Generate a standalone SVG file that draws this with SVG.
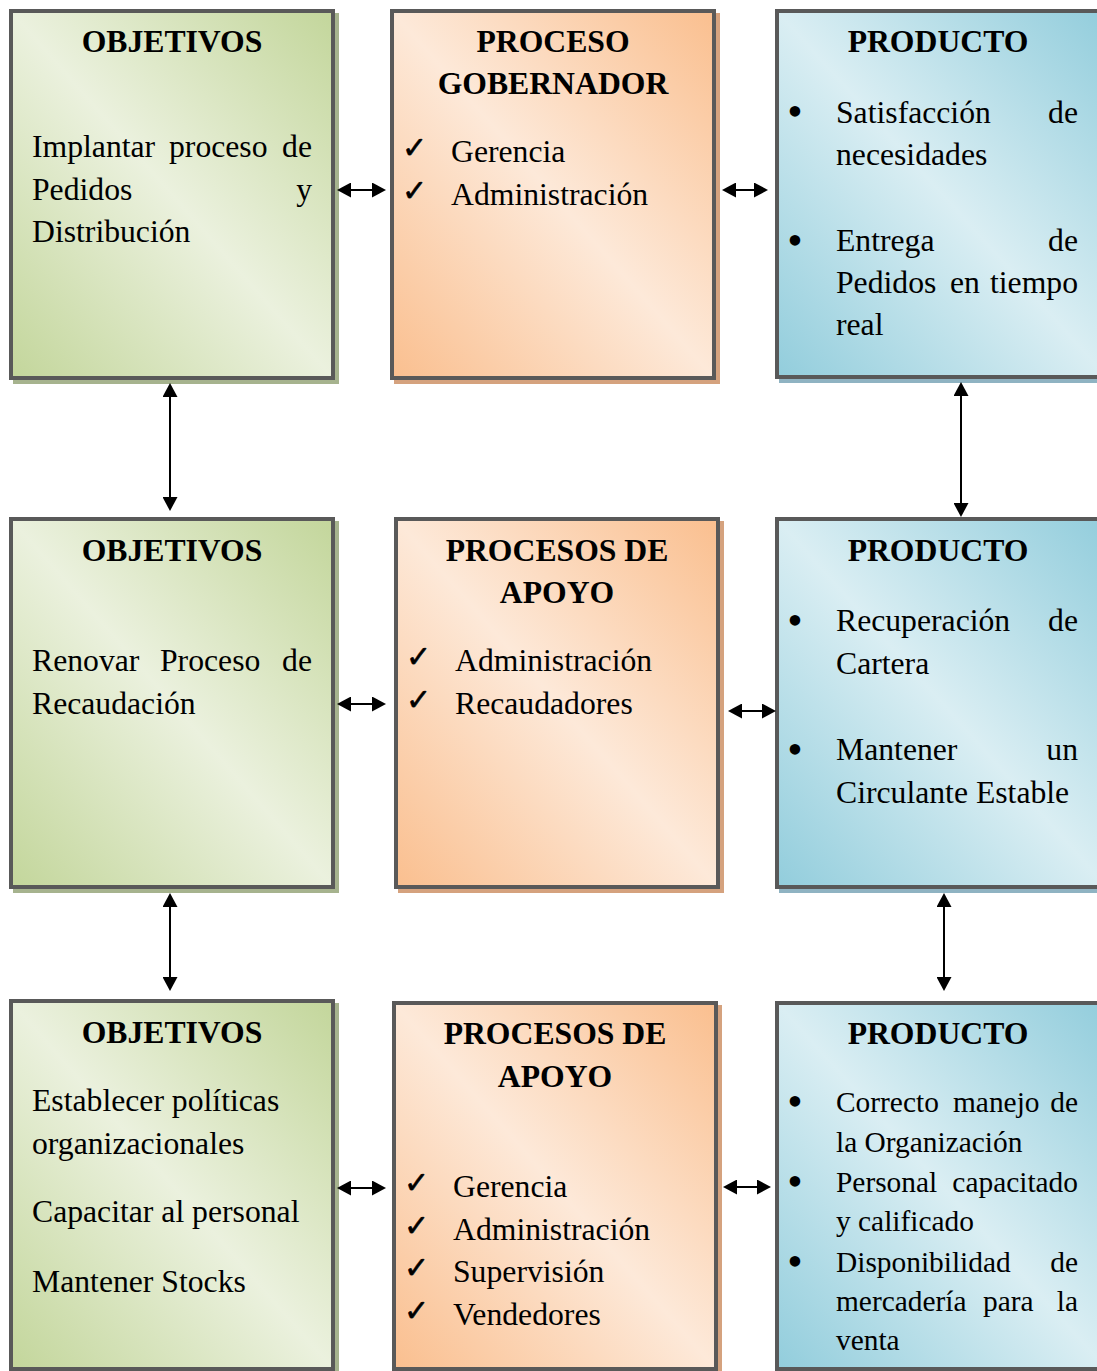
<svg xmlns="http://www.w3.org/2000/svg" width="1097" height="1371" viewBox="0 0 1097 1371">
  <style>
    .box { stroke: #595959; stroke-width: 4; }
    .t { font-family: "Liberation Serif", "Times New Roman", serif; font-size: 31.7px; fill: #000; }
    .h { font-weight: bold; text-anchor: middle; }
    .sm { font-size: 29.4px; }
    .end { text-anchor: end; }
    .chk { font-family: "DejaVu Sans", sans-serif; font-size: 30px; fill: #000; stroke: #000; stroke-width: 0.6; }
    .bul { font-family: "Liberation Serif", serif; font-size: 44px; text-anchor: middle; fill: #000; }
    .sh-g { fill: #a6b38e; }
    .sh-o { fill: #d5a27e; }
    .sh-b { fill: #8fb3c2; }
    .link { stroke: #000; stroke-width: 2; fill: none; marker-start: url(#head); marker-end: url(#head); }
  </style>
  <defs>
    <linearGradient id="gGreen" x1="1" y1="0" x2="0" y2="1">
      <stop offset="0" stop-color="#c3d69b"/>
      <stop offset="0.5" stop-color="#ebf1de"/>
      <stop offset="1" stop-color="#c3d69b"/>
    </linearGradient>
    <linearGradient id="gOrange" x1="1" y1="0" x2="0" y2="1">
      <stop offset="0" stop-color="#fabf8f"/>
      <stop offset="0.5" stop-color="#fde9d9"/>
      <stop offset="1" stop-color="#fabf8f"/>
    </linearGradient>
    <linearGradient id="gBlue" x1="1" y1="0" x2="0" y2="1">
      <stop offset="0" stop-color="#92cddc"/>
      <stop offset="0.5" stop-color="#daeef3"/>
      <stop offset="1" stop-color="#92cddc"/>
    </linearGradient>
    <marker id="head" markerUnits="userSpaceOnUse" markerWidth="14" markerHeight="15" refX="3" refY="7.5" orient="auto-start-reverse" viewBox="0 0 14 15">
      <path d="M0,0 L14,7.5 L0,15 Z" fill="#000"/>
    </marker>
  </defs>

  <!-- Row 1 -->
  <g id="objetivos-1">
    <rect class="sh-g" x="13" y="13" width="326" height="371"/>
    <rect class="box" x="11" y="11" width="322" height="367" fill="url(#gGreen)"/>
    <text class="t h" x="172" y="52">OBJETIVOS</text>
    <text class="t" x="32" y="157">Implantar</text>
    <text class="t" x="169" y="157">proceso</text>
    <text class="t end" x="312" y="157">de</text>
    <text class="t" x="32" y="200">Pedidos</text>
    <text class="t end" x="312" y="200">y</text>
    <text class="t" x="32" y="242">Distribución</text>
  </g>

  <g id="proceso-gobernador">
    <rect class="sh-o" x="394" y="13" width="326" height="371"/>
    <rect class="box" x="392" y="11" width="322" height="367" fill="url(#gOrange)"/>
    <text class="t h" x="553" y="52">PROCESO</text>
    <text class="t h" x="553" y="94">GOBERNADOR</text>
    <text class="chk" x="402" y="158">✓</text>
    <text class="t" x="451" y="162">Gerencia</text>
    <text class="chk" x="402" y="201">✓</text>
    <text class="t" x="451" y="205">Administración</text>
  </g>

  <g id="producto-1">
    <rect class="sh-b" x="779" y="13" width="334" height="370"/>
    <rect class="box" x="777" y="11" width="330" height="366" fill="url(#gBlue)"/>
    <text class="t h" x="938" y="52">PRODUCTO</text>
    <text class="bul" x="795" y="126">•</text>
    <text class="t" x="836" y="123">Satisfacción</text>
    <text class="t end" x="1078" y="123">de</text>
    <text class="t" x="836" y="165">necesidades</text>
    <text class="bul" x="795" y="255">•</text>
    <text class="t" x="836" y="251">Entrega</text>
    <text class="t end" x="1078" y="251">de</text>
    <text class="t" x="836" y="293">Pedidos</text>
    <text class="t" x="950" y="293">en</text>
    <text class="t end" x="1078" y="293">tiempo</text>
    <text class="t" x="836" y="335">real</text>
  </g>

  <!-- Row 2 -->
  <g id="objetivos-2">
    <rect class="sh-g" x="13" y="521" width="326" height="372"/>
    <rect class="box" x="11" y="519" width="322" height="368" fill="url(#gGreen)"/>
    <text class="t h" x="172" y="561">OBJETIVOS</text>
    <text class="t" x="32" y="671">Renovar</text>
    <text class="t" x="160" y="671">Proceso</text>
    <text class="t end" x="312" y="671">de</text>
    <text class="t" x="32" y="714">Recaudación</text>
  </g>

  <g id="procesos-apoyo-1">
    <rect class="sh-o" x="398" y="521" width="326" height="372"/>
    <rect class="box" x="396" y="519" width="322" height="368" fill="url(#gOrange)"/>
    <text class="t h" x="557" y="561">PROCESOS DE</text>
    <text class="t h" x="557" y="603">APOYO</text>
    <text class="chk" x="406" y="667">✓</text>
    <text class="t" x="455" y="671">Administración</text>
    <text class="chk" x="406" y="710">✓</text>
    <text class="t" x="455" y="714">Recaudadores</text>
  </g>

  <g id="producto-2">
    <rect class="sh-b" x="779" y="521" width="334" height="372"/>
    <rect class="box" x="777" y="519" width="330" height="368" fill="url(#gBlue)"/>
    <text class="t h" x="938" y="561">PRODUCTO</text>
    <text class="bul" x="795" y="635">•</text>
    <text class="t" x="836" y="631">Recuperación</text>
    <text class="t end" x="1078" y="631">de</text>
    <text class="t" x="836" y="674">Cartera</text>
    <text class="bul" x="795" y="764">•</text>
    <text class="t" x="836" y="760">Mantener</text>
    <text class="t end" x="1078" y="760">un</text>
    <text class="t" x="836" y="803">Circulante Estable</text>
  </g>

  <!-- Row 3 -->
  <g id="objetivos-3">
    <rect class="sh-g" x="13" y="1003" width="326" height="372"/>
    <rect class="box" x="11" y="1001" width="322" height="368" fill="url(#gGreen)"/>
    <text class="t h" x="172" y="1043">OBJETIVOS</text>
    <text class="t" x="32" y="1111">Establecer políticas</text>
    <text class="t" x="32" y="1154">organizacionales</text>
    <text class="t" x="32" y="1222">Capacitar al personal</text>
    <text class="t" x="32" y="1292">Mantener Stocks</text>
  </g>

  <g id="procesos-apoyo-2">
    <rect class="sh-o" x="396" y="1005" width="326" height="370"/>
    <rect class="box" x="394" y="1003" width="322" height="366" fill="url(#gOrange)"/>
    <text class="t h" x="555" y="1044">PROCESOS DE</text>
    <text class="t h" x="555" y="1087">APOYO</text>
    <text class="chk" x="404" y="1193">✓</text>
    <text class="t" x="453" y="1197">Gerencia</text>
    <text class="chk" x="404" y="1236">✓</text>
    <text class="t" x="453" y="1240">Administración</text>
    <text class="chk" x="404" y="1278">✓</text>
    <text class="t" x="453" y="1282">Supervisión</text>
    <text class="chk" x="404" y="1321">✓</text>
    <text class="t" x="453" y="1325">Vendedores</text>
  </g>

  <g id="producto-3">
    <rect class="sh-b" x="779" y="1005" width="334" height="370"/>
    <rect class="box" x="777" y="1003" width="330" height="366" fill="url(#gBlue)"/>
    <text class="t h" x="938" y="1044">PRODUCTO</text>
    <text class="bul" x="795" y="1116">•</text>
    <text class="t sm" x="836" y="1112">Correcto</text>
    <text class="t sm" x="953" y="1112">manejo</text>
    <text class="t sm end" x="1078" y="1112">de</text>
    <text class="t sm" x="836" y="1152">la Organización</text>
    <text class="bul" x="795" y="1196">•</text>
    <text class="t sm" x="836" y="1192">Personal</text>
    <text class="t sm end" x="1078" y="1192">capacitado</text>
    <text class="t sm" x="836" y="1231">y calificado</text>
    <text class="bul" x="795" y="1276">•</text>
    <text class="t sm" x="836" y="1272">Disponibilidad</text>
    <text class="t sm end" x="1078" y="1272">de</text>
    <text class="t sm" x="836" y="1311">mercadería</text>
    <text class="t sm" x="983" y="1311">para</text>
    <text class="t sm end" x="1078" y="1311">la</text>
    <text class="t sm" x="836" y="1350">venta</text>
  </g>

  <!-- Connectors (double-headed arrows) -->
  <g id="connectors">
    <line class="link" x1="348" y1="190" x2="375" y2="190"/>
    <line class="link" x1="733" y1="190" x2="757" y2="190"/>
    <line class="link" x1="348" y1="704" x2="375" y2="704"/>
    <line class="link" x1="739" y1="711" x2="765" y2="711"/>
    <line class="link" x1="348" y1="1188" x2="375" y2="1188"/>
    <line class="link" x1="734" y1="1187" x2="760" y2="1187"/>
    <line class="link" x1="170" y1="394" x2="170" y2="500"/>
    <line class="link" x1="961" y1="393" x2="961" y2="506"/>
    <line class="link" x1="170" y1="904" x2="170" y2="980"/>
    <line class="link" x1="944" y1="904" x2="944" y2="980"/>
  </g>
</svg>
